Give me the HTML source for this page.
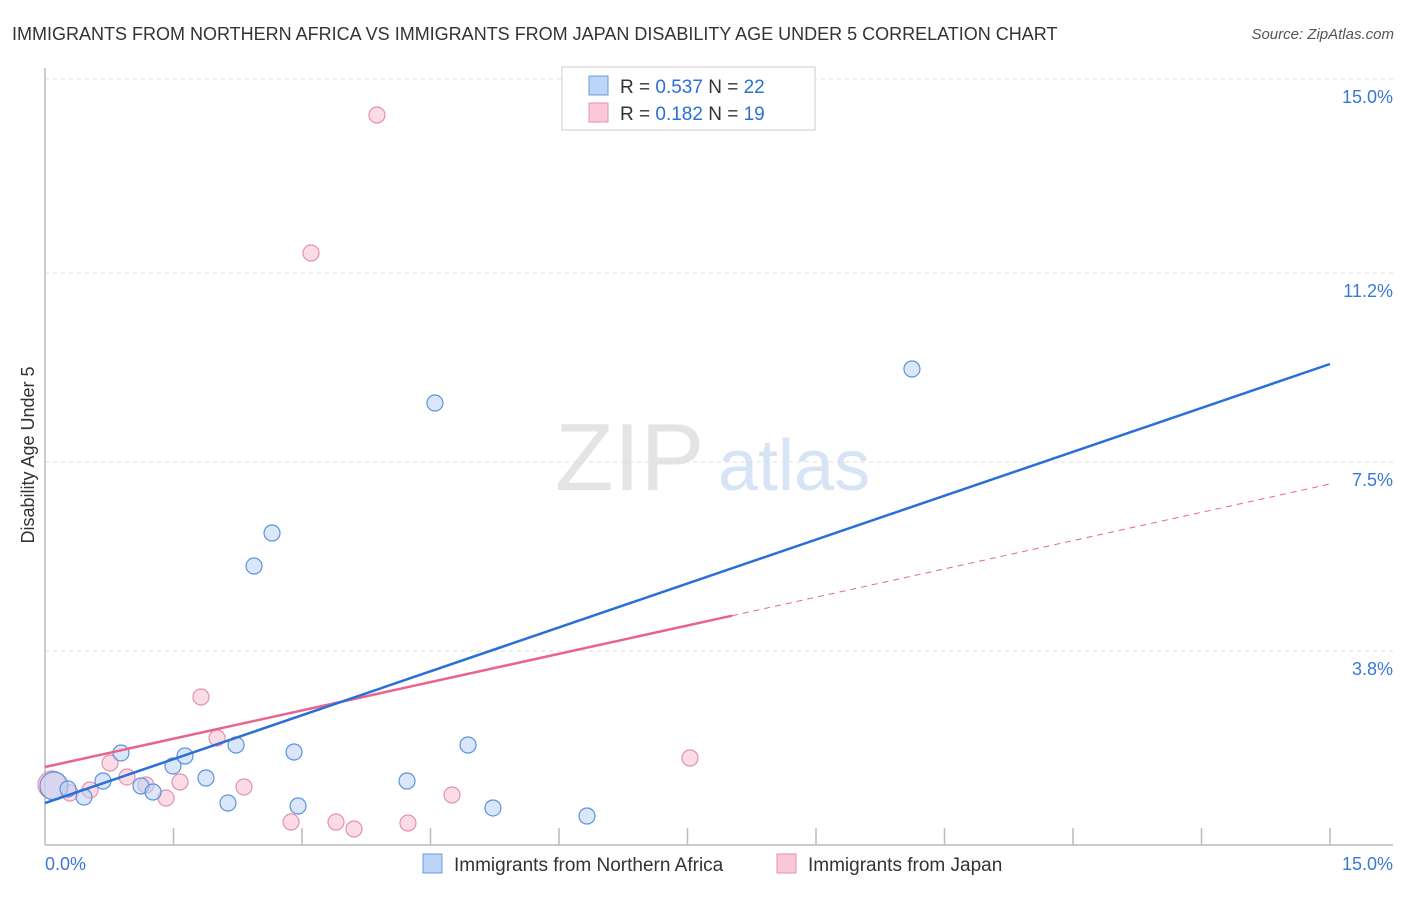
<!DOCTYPE html>
<html><head><meta charset="utf-8"><style>
body{margin:0;background:#fff;font-family:"Liberation Sans",sans-serif}
svg text{font-family:"Liberation Sans",sans-serif}
</style></head><body>
<svg id="c" width="1406" height="892">
<text x="12" y="40" font-size="18" fill="#333">IMMIGRANTS FROM NORTHERN AFRICA VS IMMIGRANTS FROM JAPAN DISABILITY AGE UNDER 5 CORRELATION CHART</text>
<text x="1394" y="39" font-size="15" fill="#555" font-style="italic" text-anchor="end">Source: ZipAtlas.com</text>
<text x="0" y="0" transform="translate(34,455) rotate(-90)" font-size="18" fill="#333" text-anchor="middle">Disability Age Under 5</text>
<g><text x="555" y="490" font-size="96" fill="#e4e4e4" font-family="Liberation Serif,serif">ZIP</text><text x="718" y="490" font-size="72" fill="#d6e4f5">atlas</text></g>
<g id="grid"></g><g id="marks"></g>
<g>
<rect x="562" y="67" width="253" height="63" fill="#fff" stroke="#ccc"/>
<rect x="589" y="76" width="19" height="19" fill="#bcd4f5" stroke="#6b9de0"/>
<rect x="589" y="103" width="19" height="19" fill="#f9c9d8" stroke="#e78fab"/>
<text x="620" y="93" font-size="19" fill="#333">R = <tspan fill="#2a6fd8">0.537</tspan>  N = <tspan fill="#2a6fd8">22</tspan></text>
<text x="620" y="120" font-size="19" fill="#333">R = <tspan fill="#2a6fd8"> 0.182</tspan>  N = <tspan fill="#2a6fd8">19</tspan></text>
</g>
<g>
<rect x="423" y="854" width="19" height="19" fill="#bcd4f5" stroke="#6b9de0"/>
<text x="454" y="871" font-size="19" fill="#333">Immigrants from Northern Africa</text>
<rect x="777" y="854" width="19" height="19" fill="#f9c9d8" stroke="#e78fab"/>
<text x="808" y="871" font-size="19" fill="#333">Immigrants from Japan</text>
</g>
</svg>
<script>
const yTicks=[15.0,11.2,7.5,3.8];
const yTickLabels=["15.0%","11.2%","7.5%","3.8%"];
const xTickLabels=["0.0%","15.0%"];
const blueX=[0.105,0.268,0.455,0.677,0.887,1.121,1.261,1.494,1.634,1.879,2.136,2.230,2.440,2.650,2.907,2.954,4.226,4.552,4.938,5.229,6.327,10.120];
const blueY=[1.155,1.097,0.940,1.253,1.802,1.155,1.038,1.547,1.743,1.312,0.822,1.958,5.463,6.110,1.821,0.764,1.253,8.655,1.958,0.725,0.568,9.321];
const pinkX=[0.082,0.292,0.525,0.759,0.957,1.179,1.413,1.576,1.821,2.008,2.323,2.872,3.105,3.397,3.607,3.875,4.237,4.751,7.529];
const pinkY=[1.175,1.018,1.077,1.606,1.332,1.175,0.920,1.234,2.898,2.095,1.136,0.450,11.592,0.450,0.313,14.295,0.431,0.979,1.704];
const blueTrend=[0.822,9.419];
const pinkTrend=[1.527,7.069];
const pinkSolidEnd=8.02;
const X=v=>45+v/15*1285, Y=v=>845-v/15*766;
const NS="http://www.w3.org/2000/svg";
function mk(t,a,p){const e=document.createElementNS(NS,t);for(const k in a)e.setAttribute(k,a[k]);p.appendChild(e);return e;}
const g=document.getElementById('grid'),m=document.getElementById('marks');
yTicks.forEach((t,i)=>{
 const l=mk('line',{x1:45,x2:1393,y1:Y(t),y2:Y(t),stroke:'#ddd','stroke-dasharray':'4,4'},g);
 
 
 const tx=mk('text',{x:1393,y:Y(t)+24,'font-size':18,fill:'#3a78d8','text-anchor':'end'},g);
 tx.textContent=yTickLabels[i];
 
 
});
const ax=mk('line',{x1:45,x2:1393,y1:845,y2:845,stroke:'#bbb','stroke-width':1.5},g);


const ay=mk('line',{x1:45,x2:45,y1:68,y2:845,stroke:'#bbb','stroke-width':1.5},g);


for(let i=1;i<=10;i++){const tk=mk('line',{x1:X(i*1.5),x2:X(i*1.5),y1:828,y2:845,stroke:'#bbb','stroke-width':1.5},g);
 
 }
[[0,'start',45],[1,'end',1393]].forEach(([i,a,x])=>{const t=mk('text',{x:x,y:870,'font-size':18,fill:'#3a78d8','text-anchor':a},g);t.textContent=xTickLabels[i];
 
 });
function pts(xs,ys,fill,stroke,name){xs.forEach((x,i)=>{const c=mk('circle',{cx:X(x),cy:Y(ys[i]),r:i==0?14:8,fill:fill,'fill-opacity':0.55,stroke:stroke,'stroke-width':1.2},m);
 
 });}
pts(pinkX,pinkY,'#f7c0d2','#e690ad','japan-point');
pts(blueX,blueY,'#bcd4f5','#5d92dc','northern-africa-point');
const ps=mk('line',{x1:X(0),y1:Y(pinkTrend[0]),x2:X(pinkSolidEnd),y2:Y(pinkTrend[0]+(pinkTrend[1]-pinkTrend[0])*pinkSolidEnd/15),stroke:'#e8648f','stroke-width':2.5},m);


const pd=mk('line',{x1:X(pinkSolidEnd),y1:Y(pinkTrend[0]+(pinkTrend[1]-pinkTrend[0])*pinkSolidEnd/15),x2:X(15),y2:Y(pinkTrend[1]),stroke:'#e8648f','stroke-width':1,'stroke-dasharray':'6,5'},m);


const bl=mk('line',{x1:X(0),y1:Y(blueTrend[0]),x2:X(15),y2:Y(blueTrend[1]),stroke:'#2a6fd8','stroke-width':2.5},m);


</script>
</body></html>
